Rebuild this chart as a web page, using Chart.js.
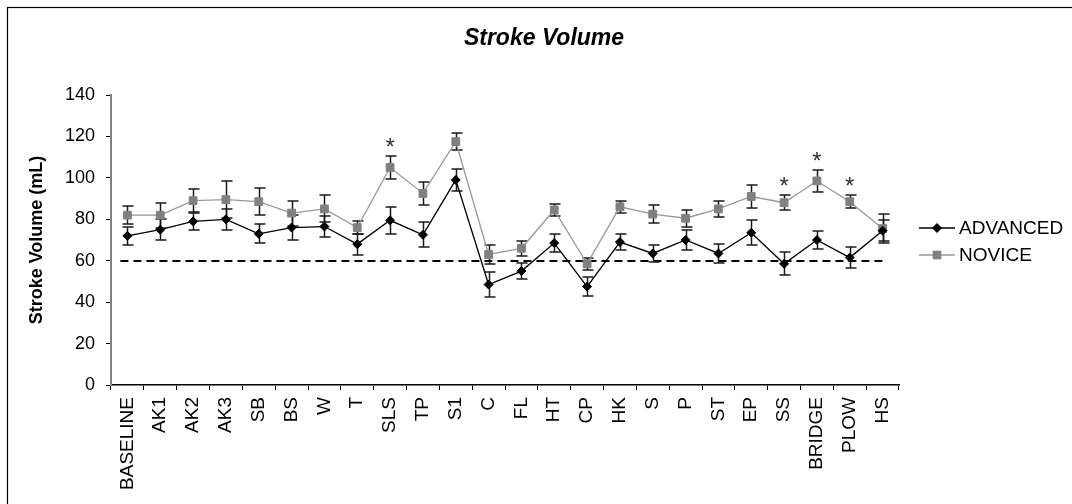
<!DOCTYPE html>
<html><head><meta charset="utf-8">
<script src="https://cdn.jsdelivr.net/npm/chart.js@4/dist/chart.umd.min.js"></script>
<style>html,body{margin:0;padding:0;background:#fff}canvas{display:block}</style>
</head><body>
<canvas id="c" width="1072" height="504"></canvas>
<script>
const categories = ['BASELINE','AK1','AK2','AK3','SB','BS','W','T','SLS','TP','S1','C','FL','HT','CP','HK','S','P','ST','EP','SS','BRIDGE','PLOW','HS'];
const advanced    = [72, 75, 79, 80, 73, 76, 76.5, 68, 79.5, 72.5, 99, 48.5, 55, 68.5, 47.5, 69, 63.5, 70, 63.5, 73.5, 58.5, 70, 61.5, 74.5];
const advancedErr = [4.5, 5, 4, 5, 4.5, 6, 5, 5, 6.5, 6, 5.5, 6, 4, 4.5, 4.5, 4, 4, 5, 4.5, 6, 5.5, 4.5, 5, 5];
const novice      = [82, 82, 89, 89.5, 88.5, 83, 85, 76, 105, 92.5, 117.5, 63, 66, 84.5, 58.5, 86, 82.5, 80.5, 85, 91, 88, 98.5, 88.5, 75.5];
const noviceErr   = [4.5, 6, 5.5, 9, 6.5, 6, 6.5, 3, 5.5, 5.5, 4, 4.5, 3.5, 3, 3, 3, 4.5, 4, 4, 5.5, 3.5, 5.5, 3, 7];
const significant = ['SLS','SS','BRIDGE','PLOW'];
const referenceValue = 60;
const yTicks = [0, 20, 40, 60, 80, 100, 120, 140];
const titleText = 'Stroke Volume';
const yTitleText = 'Stroke Volume (mL)';
const seriesNames = ['ADVANCED', 'NOVICE'];

const FONT = '"Liberation Sans", Arial, sans-serif';

const extras = {
  id: 'extras',
  beforeDraw(chart) {
    const ctx = chart.ctx;
    ctx.save();
    ctx.fillStyle = '#fff';
    ctx.fillRect(0, 0, chart.width, chart.height);
    ctx.restore();
  },
  beforeDatasetsDraw(chart) {
    const {ctx, scales: {x, y}} = chart;
    ctx.save();
    // reference line
    ctx.strokeStyle = '#000';
    ctx.lineWidth = 2;
    ctx.setLineDash([8, 5]);
    const x0 = x.getPixelForValue(0) - 7;
    const x1 = x.getPixelForValue(categories.length - 1) + 2;
    const yr = Math.round(y.getPixelForValue(referenceValue));
    ctx.beginPath(); ctx.moveTo(x0, yr); ctx.lineTo(x1, yr); ctx.stroke();
    ctx.setLineDash([]);
    // error bars
    const series = [[novice, noviceErr], [advanced, advancedErr]];
    ctx.strokeStyle = '#1a1a1a';
    ctx.lineWidth = 1.5;
    for (const [vals, errs] of series) {
      vals.forEach((v, i) => {
        const px = Math.round(x.getPixelForValue(i)) + 0.5;
        const yt = Math.round(y.getPixelForValue(v + errs[i]));
        const yb = Math.round(y.getPixelForValue(v - errs[i]));
        ctx.beginPath();
        ctx.moveTo(px, yt); ctx.lineTo(px, yb);
        ctx.moveTo(px - 5, yt); ctx.lineTo(px + 6, yt);
        ctx.moveTo(px - 5, yb); ctx.lineTo(px + 6, yb);
        ctx.stroke();
      });
    }
    ctx.restore();
  },
  afterDraw(chart) {
    const {ctx, scales: {x, y}} = chart;
    ctx.save();
    // border
    ctx.strokeStyle = '#000';
    ctx.lineWidth = 1.2;
    ctx.strokeRect(7.5, 7.5, 1200, 700);
    // title
    ctx.fillStyle = '#000';
    ctx.font = 'italic bold 23px ' + FONT;
    ctx.textAlign = 'center';
    ctx.textBaseline = 'middle';
    ctx.fillText(titleText, 544, 39);
    // asterisks
    ctx.fillStyle = '#333';
    ctx.font = '24px ' + FONT;
    ctx.textBaseline = 'alphabetic';
    significant.forEach(name => {
      const i = categories.indexOf(name);
      const px = x.getPixelForValue(i);
      const py = y.getPixelForValue(novice[i] + noviceErr[i]);
      ctx.fillText('*', px, py - 1);
    });
    // legend
    const items = [
      {name: seriesNames[0], line: '#000', fill: '#000', style: 'rectRot', r: 4.5, y: 228},
      {name: seriesNames[1], line: '#999', fill: '#808080', style: 'rect', r: 5.5, y: 255}
    ];
    items.forEach(it => {
      ctx.strokeStyle = it.line;
      ctx.lineWidth = 1.3;
      ctx.beginPath(); ctx.moveTo(919, it.y); ctx.lineTo(955, it.y); ctx.stroke();
      ctx.fillStyle = it.fill;
      ctx.strokeStyle = it.fill;
      ctx.lineWidth = 1;
      Chart.helpers.drawPoint(ctx, {pointStyle: it.style, radius: it.r, borderWidth: 1}, 937, it.y);
      ctx.fillStyle = '#000';
      ctx.font = '19px ' + FONT;
      ctx.textAlign = 'left';
      ctx.textBaseline = 'middle';
      ctx.fillText(it.name, 959, it.y + 1);
    });
    ctx.restore();
  }
};

new Chart(document.getElementById('c'), {
  type: 'line',
  data: {
    labels: categories,
    datasets: [
      {
        label: seriesNames[0], data: advanced,
        borderColor: '#000', borderWidth: 1.3,
        pointStyle: 'rectRot', pointRadius: 4.5, pointBackgroundColor: '#000', pointBorderColor: '#000', pointBorderWidth: 1,
        tension: 0, order: 1
      },
      {
        label: seriesNames[1], data: novice,
        borderColor: '#999', borderWidth: 1.3,
        pointStyle: 'rect', pointRadius: 5.5, pointBackgroundColor: '#808080', pointBorderColor: '#808080', pointBorderWidth: 1,
        tension: 0, order: 2
      }
    ]
  },
  options: {
    responsive: false,
    animation: false,
    devicePixelRatio: 1,
    layout: {padding: {left: 22, right: 173, top: 95, bottom: 0}},
    plugins: {legend: {display: false}, tooltip: {enabled: false}, title: {display: false}},
    scales: {
      x: {
        type: 'category',
        offset: true,
        grid: {offset: true, drawOnChartArea: false, drawTicks: true, tickLength: 5, color: '#000', lineWidth: 1},
        border: {color: '#000', width: 1.5},
        ticks: {color: '#000', font: {family: FONT, size: 19}, minRotation: 90, maxRotation: 90, padding: 7, autoSkip: false},
        afterFit(s) { s.height = 119; }
      },
      y: {
        min: 0, max: 140,
        afterBuildTicks(s) { s.ticks = yTicks.map(v => ({value: v})); },
        grid: {drawOnChartArea: false, drawTicks: true, tickLength: 5, color: '#000', lineWidth: 1},
        border: {color: '#808080', width: 2},
        ticks: {color: '#000', font: {family: FONT, size: 18}, padding: 11},
        title: {display: true, text: yTitleText, color: '#000', font: {family: FONT, size: 18, weight: 'bold'}, padding: {top: 4, bottom: 4}},
        afterFit(s) { s.width = 89; }
      }
    }
  },
  plugins: [extras]
});
</script>
</body></html>
